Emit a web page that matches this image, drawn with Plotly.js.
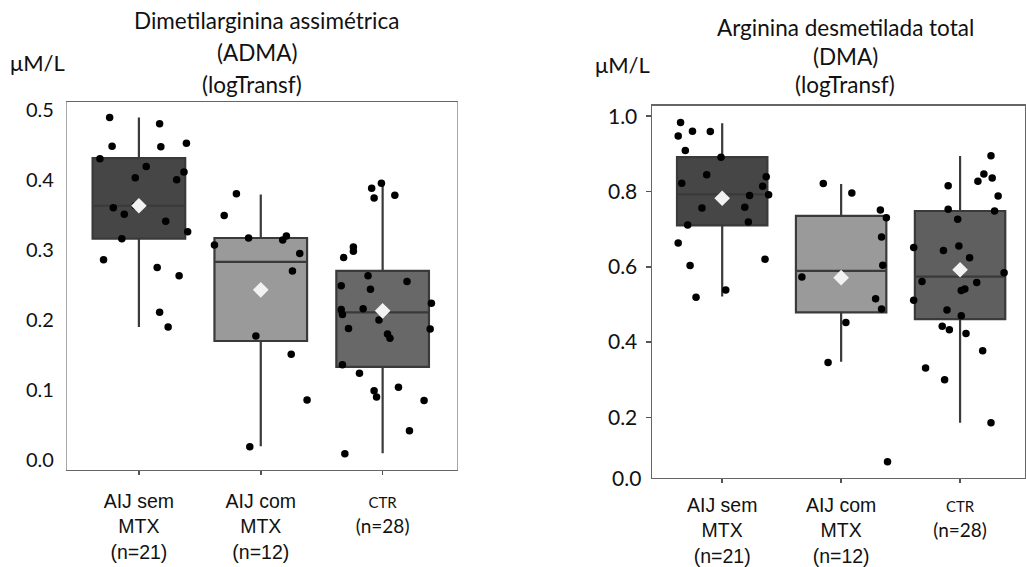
<!DOCTYPE html>
<html>
<head>
<meta charset="utf-8">
<script src="https://cdn.plot.ly/plotly-3.0.1.min.js"></script>
<style>html,body{margin:0;padding:0;background:#fff;}#chart{width:1026px;height:567px;}</style>
</head>
<body>
<div id="chart"></div>
<script>
// ---------- categories / tick labels ----------
const categories = [0, 1, 2];
const catLabels = [
  'AIJ sem<br>MTX<br>(n=21)',
  'AIJ com<br>MTX<br>(n=12)',
  '<span style="font-family:Lato;font-size:15px">CTR</span><br><span style="font-family:Lato;font-size:19px">(n=28)</span>'
];
const admaTicks = [0, 0.1, 0.2, 0.3, 0.4, 0.5];
const admaTickText = ['0.0', '0.1', '0.2', '0.3', '0.4', '0.5'];
const dmaTicks = [0.2, 0.4, 0.6, 0.8, 1.0];
const dmaTickText = ['0.2', '0.4', '0.6', '0.8', '1.0'];

// ---------- ADMA box statistics ----------
const admaQ1 = [0.316, 0.170, 0.133];
const admaMedian = [0.363, 0.283, 0.211];
const admaQ3 = [0.431, 0.317, 0.270];
const admaLow = [0.190, 0.020, 0.010];
const admaHigh = [0.489, 0.379, 0.396];
const admaMean = [0.363, 0.243, 0.213];

// ---------- DMA box statistics ----------
const dmaQ1 = [0.710, 0.479, 0.461];
const dmaMedian = [0.792, 0.589, 0.574];
const dmaQ3 = [0.891, 0.735, 0.748];
const dmaLow = [0.521, 0.348, 0.186];
const dmaHigh = [0.981, 0.820, 0.894];
const dmaMean = [0.782, 0.571, 0.592];

// ---------- ADMA individual values (with horizontal jitter) ----------
const admaSemVals = [0.489,0.480,0.448,0.447,0.452,0.430,0.419,0.403,0.411,0.400,0.360,0.351,0.341,0.326,0.316,0.286,0.275,0.263,0.211,0.190,0.363];
const admaSemJit  = [-0.24,0.17,-0.22,0.18,0.39,-0.32,0.06,-0.03,0.37,0.31,-0.21,-0.12,0.22,0.40,-0.14,-0.29,0.15,0.33,0.17,0.24,-0.03];
const admaComVals = [0.380,0.349,0.317,0.320,0.307,0.295,0.270,0.177,0.151,0.086,0.019,0.314];
const admaComJit  = [-0.20,-0.30,-0.10,0.21,-0.38,0.32,0.26,-0.04,0.25,0.38,-0.09,0.18];
const admaCtrVals = [0.395,0.388,0.374,0.378,0.304,0.298,0.289,0.263,0.255,0.249,0.244,0.224,0.215,0.216,0.208,0.200,0.188,0.187,0.180,0.174,0.136,0.124,0.099,0.090,0.104,0.085,0.042,0.009];
const admaCtrJit  = [-0.01,-0.09,-0.07,0.10,-0.24,-0.24,-0.32,-0.12,0.20,-0.34,-0.10,0.40,-0.34,-0.16,-0.33,-0.03,-0.28,0.39,0.04,0.06,-0.33,-0.19,-0.07,-0.05,0.13,0.34,0.22,-0.31];

// ---------- DMA individual values ----------
const dmaSemVals = [0.983,0.947,0.960,0.959,0.909,0.891,0.844,0.822,0.839,0.814,0.791,0.789,0.756,0.758,0.711,0.719,0.663,0.620,0.603,0.538,0.519];
const dmaSemJit  = [-0.35,-0.37,-0.25,-0.10,-0.31,-0.01,-0.13,-0.34,0.37,0.34,0.39,0.23,-0.17,0.19,-0.29,0.22,-0.37,0.36,-0.27,0.03,-0.22];
const dmaComVals = [0.821,0.796,0.751,0.730,0.679,0.604,0.573,0.515,0.488,0.452,0.346,0.082];
const dmaComJit  = [-0.15,0.09,0.33,0.38,0.34,0.35,-0.33,0.29,0.34,0.04,-0.11,0.39];
const dmaCtrVals = [0.895,0.846,0.827,0.836,0.815,0.788,0.753,0.748,0.726,0.651,0.643,0.655,0.624,0.584,0.561,0.558,0.537,0.541,0.511,0.485,0.470,0.442,0.433,0.423,0.377,0.331,0.300,0.186];
const dmaCtrJit  = [0.26,0.20,0.15,0.27,-0.10,0.32,-0.10,0.29,-0.02,-0.39,-0.14,-0.01,0.08,0.37,-0.32,0.14,0.01,0.04,-0.39,-0.11,0.01,-0.15,-0.09,0.05,0.19,-0.29,-0.13,0.26];

// ---------- styles ----------
const boxFills = ['#464646', '#9a9a9a', '#686868'];
const boxFillsR = ['#464646', '#9a9a9a', '#5f5f5f'];
const boxLine = '#3a3a3a';

function boxTraces(q1, med, q3, lo, hi, fills, xa, ya) {
  return categories.map((c, i) => ({
    type: 'box', x: [c], q1: [q1[i]], median: [med[i]], q3: [q3[i]],
    lowerfence: [lo[i]], upperfence: [hi[i]],
    fillcolor: fills[i], line: {color: boxLine, width: 2.2},
    whiskerwidth: 0, width: 0.76, boxpoints: false, hoverinfo: 'skip',
    xaxis: xa, yaxis: ya, showlegend: false
  }));
}
function pointTrace(cat, vals, jit, xa, ya) {
  return {
    type: 'scatter', mode: 'markers',
    x: vals.map((v, i) => cat + jit[i]), y: vals,
    marker: {color: '#000', size: 7.5}, xaxis: xa, yaxis: ya,
    showlegend: false, hoverinfo: 'y'
  };
}
function meanTrace(means, xa, ya) {
  return {
    type: 'scatter', mode: 'markers', x: categories, y: means,
    marker: {symbol: 'diamond', color: '#f2f2f2', size: 12, line: {width: 0}},
    xaxis: xa, yaxis: ya, showlegend: false, hoverinfo: 'y'
  };
}

const data = [].concat(
  boxTraces(admaQ1, admaMedian, admaQ3, admaLow, admaHigh, boxFills, 'x', 'y'),
  [pointTrace(0, admaSemVals, admaSemJit, 'x', 'y'),
   pointTrace(1, admaComVals, admaComJit, 'x', 'y'),
   pointTrace(2, admaCtrVals, admaCtrJit, 'x', 'y'),
   meanTrace(admaMean, 'x', 'y')],
  boxTraces(dmaQ1, dmaMedian, dmaQ3, dmaLow, dmaHigh, boxFillsR, 'x2', 'y2'),
  [pointTrace(0, dmaSemVals, dmaSemJit, 'x2', 'y2'),
   pointTrace(1, dmaComVals, dmaComJit, 'x2', 'y2'),
   pointTrace(2, dmaCtrVals, dmaCtrJit, 'x2', 'y2'),
   meanTrace(dmaMean, 'x2', 'y2')]
);

const xTickFont = {family: 'Liberation Sans, Arial, sans-serif', size: 19.5, color: '#111'};
const yTickFont = {family: 'Lato, sans-serif', size: 20, color: '#111'};
const titleFont = {family: 'Lato, sans-serif', size: 22.5, color: '#111'};
const unitFont = {family: 'Lato, sans-serif', size: 22, color: '#111'};

const Y_RANGE_DMA = [0.039, 1.027];

const layout = {
  width: 1026, height: 567,
  margin: {l: 0, r: 0, t: 0, b: 0},
  paper_bgcolor: '#fff', plot_bgcolor: '#fff',
  showlegend: false,
  xaxis: {
    domain: [0.0653, 0.4454], range: [-0.59, 2.61], anchor: 'y',
    tickvals: categories, ticktext: catLabels, tickfont: xTickFont,
    ticks: 'outside', ticklen: 4, tickcolor: '#555', tickwidth: 1.5,
    ticklabelstandoff: 9,
    showline: true, linecolor: '#666', linewidth: 1.5, mirror: true,
    showgrid: false, zeroline: false
  },
  yaxis: {
    domain: [0.1711, 0.8201], range: [-0.014, 0.511], anchor: 'x',
    tickvals: admaTicks, ticktext: admaTickText, tickfont: yTickFont,
    ticks: '', ticklabelstandoff: 8,
    showline: true, linecolor: '#a8a8a8', linewidth: 1.2, mirror: true,
    showgrid: false, zeroline: false
  },
  xaxis2: {
    domain: [0.6355, 0.9995], range: [-0.59, 2.55], anchor: 'y2',
    tickvals: categories, ticktext: catLabels, tickfont: xTickFont,
    ticks: 'outside', ticklen: 4, tickcolor: '#555', tickwidth: 1.5,
    ticklabelstandoff: 5,
    showline: true, linecolor: '#666', linewidth: 1.5, mirror: true,
    showgrid: false, zeroline: false
  },
  yaxis2: {
    domain: [0.157, 0.8131], range: Y_RANGE_DMA, anchor: 'x2',
    tickvals: dmaTicks, ticktext: dmaTickText, tickfont: {family: 'Lato, sans-serif', size: 21, color: '#111'},
    ticks: 'outside', ticklen: 5, tickcolor: '#555', tickwidth: 1.5,
    ticklabelstandoff: 4,
    showline: true, linecolor: '#666', linewidth: 1.5, mirror: true,
    showgrid: false, zeroline: false
  },
  annotations: [
    {text: 'Dimetilarginina assimétrica', xref: 'paper', yref: 'paper', x: 266/1026, y: 1 - 20/567, showarrow: false, font: titleFont, xanchor: 'center', yanchor: 'middle'},
    {text: '(ADMA)', xref: 'paper', yref: 'paper', x: 257/1026, y: 1 - 53/567, showarrow: false, font: titleFont, xanchor: 'center', yanchor: 'middle'},
    {text: '(logTransf)', xref: 'paper', yref: 'paper', x: 252/1026, y: 1 - 84/567, showarrow: false, font: titleFont, xanchor: 'center', yanchor: 'middle'},
    {text: 'μM/L', xref: 'paper', yref: 'paper', x: 37/1026, y: 1 - 62/567, showarrow: false, font: unitFont, xanchor: 'center', yanchor: 'middle'},
    {text: 'Arginina desmetilada total', xref: 'paper', yref: 'paper', x: 845/1026, y: 1 - 27/567, showarrow: false, font: titleFont, xanchor: 'center', yanchor: 'middle'},
    {text: '(DMA)', xref: 'paper', yref: 'paper', x: 845/1026, y: 1 - 57/567, showarrow: false, font: titleFont, xanchor: 'center', yanchor: 'middle'},
    {text: '(logTransf)', xref: 'paper', yref: 'paper', x: 845/1026, y: 1 - 84/567, showarrow: false, font: titleFont, xanchor: 'center', yanchor: 'middle'},
    {text: 'μM/L', xref: 'paper', yref: 'paper', x: 622/1026, y: 1 - 64/567, showarrow: false, font: unitFont, xanchor: 'center', yanchor: 'middle'},
    {text: '0.0', xref: 'paper', yref: 'y2', x: 643/1026, y: Y_RANGE_DMA[0], showarrow: false, font: {family: 'Lato, sans-serif', size: 21, color: '#111'}, xanchor: 'right', yanchor: 'middle'}
  ]
};

Plotly.newPlot('chart', data, layout, {staticPlot: true, displayModeBar: false});
</script>
</body>
</html>
